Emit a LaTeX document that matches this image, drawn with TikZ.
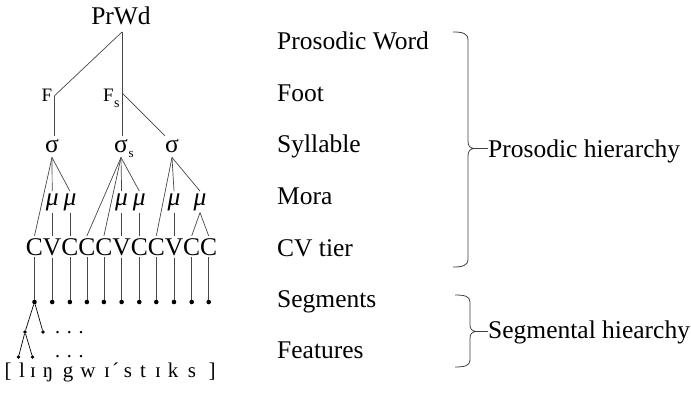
\documentclass[tikz,border=0pt]{standalone}
\usepackage{fontspec}
\setmainfont{Liberation Serif}
\begin{document}
\begin{tikzpicture}[x=1pt,y=-1pt,
  big/.style={font=\fontsize{25.5}{30}\selectfont, inner xsep=0pt, inner ysep=2pt, anchor=base},
  sig/.style={big, inner ysep=4pt},
  mu/.style={big, font=\fontsize{25.5}{30}\selectfont\itshape},
  fsz/.style={font=\fontsize{19}{22}\selectfont, inner xsep=2pt, inner ysep=0pt, anchor=base},
  subs/.style={font=\fontsize{14}{16}\selectfont, inner sep=0pt, anchor=base west},
  lbl/.style={font=\fontsize{25.5}{30}\selectfont, inner sep=0pt, anchor=base west},
  ell/.style={font=\fontsize{20}{22}\selectfont, inner sep=0pt, anchor=base west},
  ipa/.style={font=\fontsize{21}{24}\selectfont, inner sep=0pt, anchor=base},
  ln/.style={draw=black!72, line width=0.7pt},
  seg/.style={circle, fill=black, inner sep=0pt, minimum size=4.6pt},
  feat/.style={circle, fill=black, inner sep=0pt, minimum size=3.6pt},
  brace/.style={draw=black!75, line width=0.8pt}]
\useasboundingbox (0,0) rectangle (691,393);

% prosodic word and feet
\node[big] (prwd) at (121,25) {PrWd};
\coordinate (pw) at (122,32);
\node[fsz] (f) at (47,102) {F};
\node[fsz, inner xsep=0pt] (fs) at (108.5,102) {F};
\node[subs] (fssub) at (114,108) {s};
\coordinate (fsj) at (122,93);

% syllables
\node[sig] (s1) at (52,153) {σ};
\node[sig] (ss) at (121,153) {σ};
\node[subs, font=\fontsize{13}{15}\selectfont] (sssub) at (128.5,158) {s};
\node[sig] (s3) at (172,153) {σ};

% morae
\node[mu] (m1) at (52.2,205) {μ};
\node[mu] (m2) at (69.9,205) {μ};
\node[mu] (m3) at (121.6,205) {μ};
\node[mu] (m4) at (139.3,205) {μ};
\node[mu] (m5) at (174,205) {μ};
\node[mu] (m6) at (200,205) {μ};

% CV tier
\node[big] (c1) at (34.5,255) {C};
\node[big] (c2) at (52.2,255) {V};
\node[big] (c3) at (69.9,255) {C};
\node[big] (c4) at (86.9,255) {C};
\node[big] (c5) at (103.9,255) {C};
\node[big] (c6) at (121.6,255) {V};
\node[big] (c7) at (139.3,255) {C};
\node[big] (c8) at (156.3,255) {C};
\node[big] (c9) at (174,255) {V};
\node[big] (c10) at (191.7,255) {C};
\node[big] (c11) at (208.7,255) {C};

% segments
\foreach \i/\x in {1/34.5,2/52.2,3/69.9,4/86.9,5/103.9,6/121.6,7/139.3,8/156.3,9/174,10/191.7,11/208.7}
  \node[seg] (d\i) at (\x,302) {};

% features
\node[feat] (e1) at (25,332) {};
\node[feat] (e2) at (43,332) {};
\node[feat] (g1) at (18.5,357) {};
\node[feat] (g2) at (32.5,357) {};
\node[ell] (dots1) at (55,333.5) {.\,\,.\,\,.};
\node[ell] (dots2) at (55,357.5) {.\,\,.\,\,.};

% transcription
\foreach \n/\c/\x in {b1/[/8, l1/l/22, i1/ɪ/33, n1/ŋ/48, g0/g/68, w1/w/88, i2/ɪ/107, ac/´/115.5, s1t/s/128, t1/t/143, i3/ɪ/158, k1/k/173, s2t/s/192, b2/]/212}
  \node[ipa] (\n) at (\x,377) {\c};

% connectors
\draw[ln] (pw) -- (f.east);
\draw[ln] (f.east) -- (f.east |- s1.north);
\draw[ln] (pw) -- (pw |- ss.north);
\draw[ln] (fsj) -- (s3.north west);

\draw[ln] (s1.south) -- (c1.north);
\draw[ln] (s1.south) -- (m1.north);
\draw[ln] (s1.south) -- (m2.north);
\draw[ln] (m1.south) -- (c2.north);
\draw[ln] (m2.south) -- (c3.north);

\draw[ln] (ss.south) -- (c4.north);
\draw[ln] (ss.south) -- (c5.north);
\draw[ln] (ss.south) -- (m3.north);
\draw[ln] (ss.south) -- (m4.north);
\draw[ln] (m3.south) -- (c6.north);
\draw[ln] (m4.south) -- (c7.north);

\draw[ln] (s3.south) -- (c8.north);
\draw[ln] (s3.south) -- (m5.north);
\draw[ln] (s3.south) -- (m6.north);
\draw[ln] (m5.south) -- (c9.north);
\draw[ln] (m6.south) -- (c10.north);
\draw[ln] (m6.south) -- (c11.north);

\foreach \i in {1,...,11}
  \draw[ln] (c\i.south) -- (d\i);

\draw[ln, draw=black] (d1) -- (e1);
\draw[ln, draw=black] (d1) -- (e2);
\draw[ln, draw=black] (e1) -- (g1);
\draw[ln, draw=black] (e1) -- (g2);

% level labels
\node[lbl] (lpw) at (277,50) {Prosodic Word};
\node[lbl] (lft) at (277,101.5) {Foot};
\node[lbl] (lsy) at (277,153) {Syllable};
\node[lbl] (lmo) at (277,204.5) {Mora};
\node[lbl] (lcv) at (277,256) {CV tier};
\node[lbl] (lse) at (277,307) {Segments};
\node[lbl] (lfe) at (277,358.5) {Features};

\node[lbl] (ph) at (488,158) {Prosodic hierarchy};
\node[lbl] (sh) at (488,338) {Segmental hiearchy};

% braces
\coordinate (pt) at (474,148.5);
\draw[brace] (453,32) .. controls (462,32) and (468,33) .. (468,40) -- (468,141)
  .. controls (468,146) and (470,148) .. (pt)
  .. controls (470,149) and (468,151) .. (468,156) -- (468,259)
  .. controls (468,266) and (462,267) .. (453,267);
\draw[brace] (pt) -- (pt -| ph.west);

\coordinate (st) at (476,331.5);
\draw[brace] (455,295) .. controls (464,295) and (470,296) .. (470,302) -- (470,325)
  .. controls (470,329) and (472,331) .. (st)
  .. controls (472,332) and (470,334) .. (470,338) -- (470,360)
  .. controls (470,366) and (464,367) .. (455,367);
\draw[brace] (st) -- (st -| sh.west);
\end{tikzpicture}
\end{document}
